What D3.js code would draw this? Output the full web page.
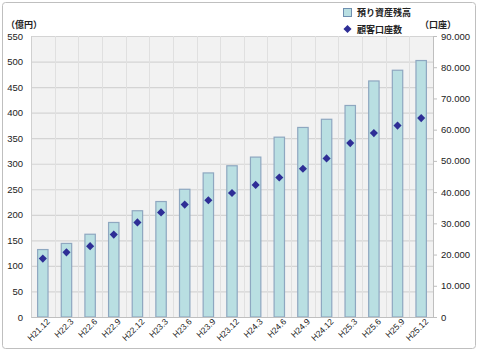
<!DOCTYPE html>
<html lang="ja">
<head>
    <meta charset="UTF-8">
    <script src="https://d3js.org/d3.v7.min.js"></script>
    <style>
        body { margin: 0; font-family: "Noto Sans CJK JP", "DejaVu Sans", sans-serif; background: #fff; }
        .tick text { font-size: 9.5px; fill: #222; font-family: "Liberation Sans", Arial, sans-serif; }
        .lbl { font-size: 9px; fill: #222; font-weight: bold; font-family: "Noto Sans CJK JP", sans-serif; }
    </style>
</head>
<body>
    <svg id="chart" width="478" height="352"></svg>

    <script>
        const periods = ["H21.12", "H22.3", "H22.6", "H22.9", "H22.12", "H23.3", "H23.6", "H23.9", "H23.12",
                         "H24.3", "H24.6", "H24.9", "H24.12", "H25.3", "H25.6", "H25.9", "H25.12"];
        // 預り資産残高 (億円)
        const assets = [132, 144, 162, 185, 208, 226, 250, 282, 296, 313, 352, 371, 387, 414, 462, 483, 502];
        // 顧客口座数 (口座)
        const accounts = [18700, 20700, 22700, 26400, 30300, 33500, 36000, 37400, 39700,
                          42300, 44700, 47500, 50800, 55700, 58900, 61300, 63700];
        const leftTicks = d3.range(0, 551, 50);
        const rightTicks = d3.range(0, 90001, 10000);

        const svg = d3.select("#chart");
        const margin = { top: 36, right: 45, bottom: 35, left: 31 },
              width = 478 - margin.left - margin.right,
              height = 352 - margin.top - margin.bottom;

        // outer frame
        svg.append("rect")
            .attr("x", 2.5).attr("y", 2.5).attr("width", 473).attr("height", 346)
            .attr("rx", 3)
            .attr("fill", "#fff").attr("stroke", "#bfbfbf");

        const g = svg.append("g").attr("transform", `translate(${margin.left},${margin.top})`);

        const x = d3.scaleBand().domain(periods).range([0, width]).paddingInner(0.56).paddingOuter(0.28);
        const band = d3.scaleBand().domain(periods).range([0, width]);
        const y = d3.scaleLinear().domain([0, 550]).range([height, 0]);
        const y2 = d3.scaleLinear().domain([0, 90000]).range([height, 0]);

        g.append("rect").attr("width", width).attr("height", height).attr("fill", "#f2f2f2");

        // horizontal grid
        g.selectAll(".hgrid").data(leftTicks).enter().append("line")
            .attr("x1", 0).attr("x2", width)
            .attr("y1", d => y(d) + 0.5).attr("y2", d => y(d) + 0.5)
            .attr("stroke", "#d4d4d4").attr("stroke-width", 1.2);

        // vertical grid between categories
        g.selectAll(".vgrid").data(periods.slice(1)).enter().append("line")
            .attr("x1", d => Math.round(band(d)) + 0.5).attr("x2", d => Math.round(band(d)) + 0.5)
            .attr("y1", 0).attr("y2", height)
            .attr("stroke", "#e0e0e0");

        // left plot edge
        g.append("line").attr("x1", 0.5).attr("x2", 0.5).attr("y1", 0).attr("y2", height).attr("stroke", "#d0d0d0");

        // bars
        g.selectAll(".bar").data(periods).enter().append("rect")
            .attr("x", d => x(d))
            .attr("y", (d, i) => y(assets[i]))
            .attr("width", x.bandwidth())
            .attr("height", (d, i) => height - y(assets[i]))
            .attr("fill", "#b9dfe2")
            .attr("stroke", "#8ea7c0").attr("stroke-width", 1.2);

        // diamonds
        g.selectAll(".pt").data(periods).enter().append("path")
            .attr("d", d3.symbol().type(d3.symbolDiamond2).size(42))
            .attr("transform", (d, i) => `translate(${x(d) + x.bandwidth() / 2},${y2(accounts[i])})`)
            .attr("fill", "#2e2e96");

        // left axis
        const yAxis = g.append("g")
            .call(d3.axisLeft(y).tickValues(leftTicks).tickSize(0).tickPadding(8));
        yAxis.select(".domain").remove();

        // right axis
        const fmt = d => d === 0 ? "0" : d3.format(",")(d).replace(/,/g, ".");
        const y2Axis = g.append("g")
            .attr("transform", `translate(${width},0)`)
            .call(d3.axisRight(y2).tickValues(rightTicks).tickSize(4).tickPadding(4).tickFormat(fmt));
        y2Axis.select(".domain").attr("stroke", "#bfbfbf");
        y2Axis.selectAll(".tick line").attr("stroke", "#bfbfbf");

        // bottom axis
        const xAxis = g.append("g")
            .attr("transform", `translate(0,${height})`)
            .call(d3.axisBottom(x).tickSize(0).tickPadding(4));
        xAxis.select(".domain").attr("stroke", "#bfbfbf");
        xAxis.selectAll("text")
            .style("text-anchor", "end")
            .style("font-size", "8.5px")
            .attr("dx", "0.2em").attr("dy", "0.6em")
            .attr("transform", "rotate(-45)");

        // unit labels
        svg.append("text").attr("class", "lbl").attr("x", 6).attr("y", 28).text("（億円）");
        svg.append("text").attr("class", "lbl").attr("x", 420).attr("y", 28).text("（口座）");

        // legend
        const legend = svg.append("g").attr("transform", "translate(343,8)");
        legend.append("rect").attr("x", 0.5).attr("y", 0.5).attr("width", 8).attr("height", 8)
            .attr("fill", "#b9dfe2").attr("stroke", "#6f8fb0");
        legend.append("text").attr("class", "lbl").attr("x", 14).attr("y", 8).text("預り資産残高");
        legend.append("path").attr("d", d3.symbol().type(d3.symbolDiamond2).size(42))
            .attr("transform", "translate(4.5,21)").attr("fill", "#2e2e96");
        legend.append("text").attr("class", "lbl").attr("x", 14).attr("y", 24.5).text("顧客口座数");
    </script>
</body>
</html>
